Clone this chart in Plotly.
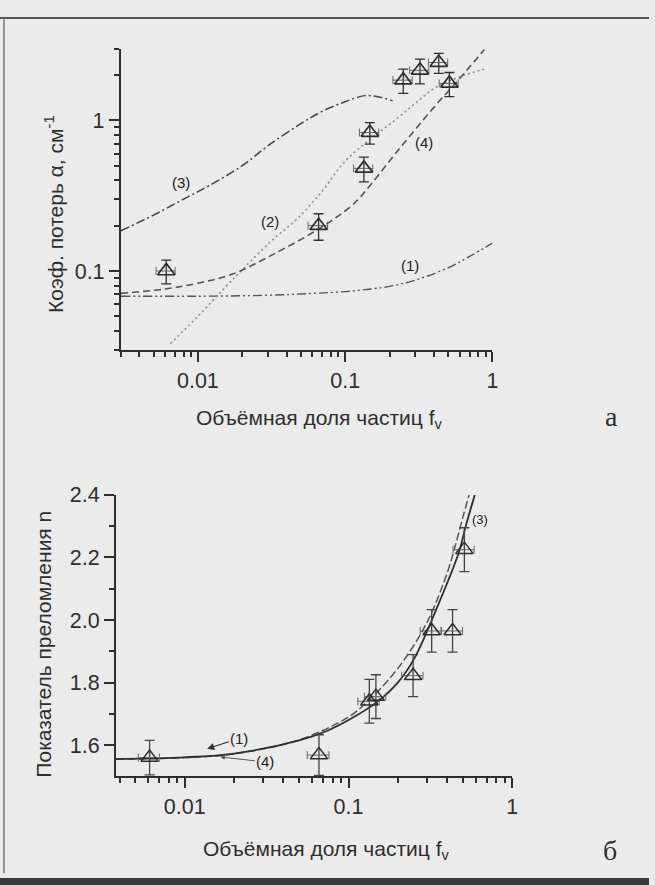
import numpy as np
import plotly.graph_objects as go

# ---------------- data ----------------
# experimental samples (shared volume fractions)
fv = [0.0061, 0.066, 0.134, 0.147, 0.248, 0.322, 0.432, 0.51]
fv_err = [0.0009, 0.010, 0.020, 0.022, 0.037, 0.048, 0.065, 0.075]
# panel a: loss coefficient, cm^-1
alpha = [0.10, 0.20, 0.48, 0.83, 1.85, 2.15, 2.42, 1.76]
alpha_err = [0.018, 0.04, 0.09, 0.135, 0.34, 0.40, 0.37, 0.32]
# panel б: refractive index
n_idx = [1.56, 1.568, 1.74, 1.755, 1.822, 1.965, 1.965, 2.225]
n_err = [0.055, 0.065, 0.07, 0.07, 0.067, 0.068, 0.068, 0.07]

# panel a model curves
c1_x = [0.003, 0.01, 0.03, 0.06, 0.1, 0.15, 0.2, 0.3, 0.5, 0.7, 1.0]
c1_y = [0.068, 0.068, 0.069, 0.071, 0.073, 0.076, 0.079, 0.087, 0.105, 0.125, 0.153]
c2_x = [0.0065, 0.01, 0.0167, 0.031, 0.047, 0.07, 0.098, 0.15, 0.217, 0.3, 0.41, 0.6, 0.9]
c2_y = [0.033, 0.05, 0.085, 0.156, 0.221, 0.34, 0.525, 0.76, 1.0, 1.3, 1.65, 1.95, 2.2]
c3_x = [0.003, 0.005, 0.008, 0.012, 0.02, 0.03, 0.05, 0.07, 0.1, 0.136, 0.17, 0.21]
c3_y = [0.185, 0.235, 0.30, 0.37, 0.50, 0.68, 0.95, 1.15, 1.33, 1.46, 1.43, 1.35]
c4_x = [0.003, 0.006, 0.01, 0.017, 0.032, 0.066, 0.11, 0.134, 0.225, 0.4, 0.6, 0.88]
c4_y = [0.071, 0.076, 0.083, 0.095, 0.128, 0.19, 0.27, 0.33, 0.62, 1.22, 1.9, 2.95]

# panel б model curves
s_x = [0.0038, 0.01, 0.02, 0.05, 0.0736, 0.1, 0.147, 0.2, 0.251, 0.341, 0.471, 0.52, 0.59]
s_y = [1.556, 1.561, 1.573, 1.615, 1.645, 1.68, 1.735, 1.80, 1.875, 2.03, 2.215, 2.30, 2.40]
d_x = [0.0038, 0.01, 0.02, 0.05, 0.1, 0.134, 0.2, 0.3, 0.4, 0.45, 0.5, 0.545]
d_y = [1.555, 1.56, 1.572, 1.617, 1.69, 1.745, 1.845, 1.99, 2.15, 2.24, 2.33, 2.40]

# ticks
xa_major = [0.01, 0.1, 1]
xa_minor = [0.003, 0.004, 0.005, 0.006, 0.007, 0.008, 0.009,
            0.02, 0.03, 0.04, 0.05, 0.06, 0.07, 0.08, 0.09,
            0.2, 0.3, 0.4, 0.5, 0.6, 0.7, 0.8, 0.9]
ya_major = [0.1, 1]
ya_minor = [0.03, 0.04, 0.05, 0.06, 0.07, 0.08, 0.09,
            0.2, 0.3, 0.4, 0.5, 0.6, 0.7, 0.8, 0.9, 2, 3]
xb_minor = [0.004, 0.005, 0.006, 0.007, 0.008, 0.009,
            0.02, 0.03, 0.04, 0.05, 0.06, 0.07, 0.08, 0.09,
            0.2, 0.3, 0.4, 0.5, 0.6, 0.7, 0.8, 0.9]
yb_major = [1.6, 1.8, 2.0, 2.2, 2.4]
yb_minor = [1.7, 1.9, 2.1, 2.3]

W, H = 655, 885
INK = "#2e2e2e"
BG = "#ebebeb"
SANS = "Liberation Sans, Arial, sans-serif"
SERIF = "Liberation Serif, Times New Roman, serif"


def px(x):
    return x / W


def py(y):
    return 1 - y / H


fig = go.Figure()

# ---- panel a curves
fig.add_trace(go.Scatter(x=c1_x, y=c1_y, mode="lines", xaxis="x", yaxis="y",
                         line=dict(color="#555", width=1.4, shape="spline",
                                   dash="9px,3px,2px,3px,2px,3px")))
fig.add_trace(go.Scatter(x=c2_x, y=c2_y, mode="lines", xaxis="x", yaxis="y",
                         line=dict(color="#8c8c8c", width=1.6, shape="spline", dash="2px,3px")))
fig.add_trace(go.Scatter(x=c3_x, y=c3_y, mode="lines", xaxis="x", yaxis="y",
                         line=dict(color="#444", width=1.5, shape="spline",
                                   dash="9px,3px,2px,3px")))
fig.add_trace(go.Scatter(x=c4_x, y=c4_y, mode="lines", xaxis="x", yaxis="y",
                         line=dict(color="#555", width=1.6, shape="spline", dash="7px,4px")))
fig.add_trace(go.Scatter(x=fv, y=alpha, mode="markers", xaxis="x", yaxis="y",
                         marker=dict(symbol="triangle-up-open", size=15, color=INK,
                                     line=dict(width=1.7, color=INK)),
                         error_y=dict(type="data", array=alpha_err, color=INK, thickness=1.3, width=5),
                         error_x=dict(type="data", array=fv_err, color="#666", thickness=1.0, width=4)))

# ---- panel б curves
fig.add_trace(go.Scatter(x=d_x, y=d_y, mode="lines", xaxis="x2", yaxis="y2",
                         line=dict(color="#555", width=1.5, shape="spline", dash="8px,3px")))
fig.add_trace(go.Scatter(x=s_x, y=s_y, mode="lines", xaxis="x2", yaxis="y2",
                         line=dict(color=INK, width=1.8, shape="spline")))
fig.add_trace(go.Scatter(x=fv, y=n_idx, mode="markers", xaxis="x2", yaxis="y2",
                         marker=dict(symbol="triangle-up-open", size=15, color=INK,
                                     line=dict(width=1.5, color="#444")),
                         error_y=dict(type="data", array=n_err, color="#444", thickness=1.3, width=5),
                         error_x=dict(type="data", array=fv_err, color="#666", thickness=1.0, width=4)))

tickfont = dict(family=SANS, size=21.5, color=INK)


def axis(**kw):
    base = dict(showline=True, linecolor=INK, linewidth=2, ticks="outside", ticklen=10,
                tickwidth=1.6, tickcolor=INK, showgrid=False, zeroline=False,
                tickfont=tickfont, tickmode="array")
    base.update(kw)
    return base


minor_style = dict(ticks="outside", ticklen=5, tickwidth=1.6, tickcolor=INK, showgrid=False)

fig.update_layout(
    width=W, height=H,
    margin=dict(l=0, r=0, t=0, b=0),
    paper_bgcolor=BG, plot_bgcolor=BG,
    showlegend=False,
    xaxis=axis(type="log", range=[np.log10(0.003), 0], domain=[px(122), px(497)], anchor="y",
               tickvals=xa_major, ticktext=["0.01", "0.1", "1"],
               minor=dict(tickmode="array", tickvals=xa_minor, **minor_style)),
    yaxis=axis(type="log", range=[np.log10(0.03), np.log10(3)], domain=[py(343), py(38)], anchor="x",
               tickvals=ya_major, ticktext=["0.1", "1"],
               minor=dict(tickmode="array", tickvals=ya_minor, **minor_style)),
    xaxis2=axis(type="log", range=[np.log10(0.0038), 0], domain=[px(117), px(517)], anchor="y2",
                tickvals=xa_major, ticktext=["0.01", "0.1", "1"],
                minor=dict(tickmode="array", tickvals=xb_minor, **minor_style)),
    yaxis2=axis(range=[1.5, 2.4], domain=[py(775), py(490)], anchor="x2",
                tickvals=yb_major, ticktext=["%.1f" % v for v in yb_major],
                minor=dict(tickmode="array", tickvals=yb_minor, **minor_style)),
)

title_font = dict(family=SANS, size=21, color=INK)
label_font = dict(family=SANS, size=15, color="#222")
C = dict(xanchor="center", yanchor="middle")
ann = []
# axis titles
ann.append(dict(text="Коэф. потерь α, см<sup>-1</sup>", x=px(55), y=py(205), xref="paper", yref="paper",
                textangle=-90, showarrow=False, font=title_font, **C))
ann.append(dict(text="Объёмная доля частиц f<sub>v</sub>", x=px(322), y=py(413), xref="paper", yref="paper",
                showarrow=False, font=title_font, **C))
ann.append(dict(text="Показатель преломления n", x=px(43), y=py(641), xref="paper", yref="paper",
                textangle=-90, showarrow=False, font=title_font, **C))
ann.append(dict(text="Объёмная доля частиц f<sub>v</sub>", x=px(330), y=py(850), xref="paper", yref="paper",
                showarrow=False, font=title_font, **C))
# panel letters
ann.append(dict(text="a", x=px(617), y=py(411), xref="paper", yref="paper", showarrow=False,
                font=dict(family=SERIF, size=28, color=INK), **C))
ann.append(dict(text="б", x=px(616), y=py(850), xref="paper", yref="paper", showarrow=False,
                font=dict(family=SERIF, size=28, color=INK), **C))

# curve labels, panel a
for txt, xv, yv in [("(1)", 0.274, 0.108), ("(2)", 0.031, 0.213), ("(3)", 0.0077, 0.389), ("(4)", 0.343, 0.711)]:
    ann.append(dict(text=txt, x=np.log10(xv), y=np.log10(yv), xref="x", yref="y", showarrow=False,
                    font=label_font, **C))
# curve labels, panel б
ann.append(dict(text="(3)", x=np.log10(0.635), y=2.32, xref="x2", yref="y2", showarrow=False,
                font=dict(family=SANS, size=13, color="#222"), **C))
ann.append(dict(text="(1)", x=np.log10(0.0137), y=1.588, ax=np.log10(0.0215), ay=1.622,
                xref="x2", yref="y2", axref="x2", ayref="y2", showarrow=True,
                arrowhead=2, arrowsize=1.3, arrowwidth=1.1, arrowcolor=INK, font=label_font))
ann.append(dict(text="(4)", x=np.log10(0.0165), y=1.562, ax=np.log10(0.031), ay=1.546,
                xref="x2", yref="y2", axref="x2", ayref="y2", showarrow=True,
                arrowhead=2, arrowsize=0.9, arrowwidth=1.0, arrowcolor="#555", font=label_font))
fig.update_layout(annotations=ann)

# scanned page frame
fig.update_layout(shapes=[
    dict(type="line", xref="paper", yref="paper", x0=0, x1=1, y0=py(7), y1=py(7),
         line=dict(color="#555", width=2)),
    dict(type="line", xref="paper", yref="paper", x0=px(4), x1=px(4), y0=py(7), y1=py(873),
         line=dict(color="#777", width=1.5)),
    dict(type="rect", xref="paper", yref="paper", x0=0, x1=1, y0=0, y1=py(878),
         fillcolor="#3a3a3a", line=dict(width=0)),
])

fig.write_html("out.html")
